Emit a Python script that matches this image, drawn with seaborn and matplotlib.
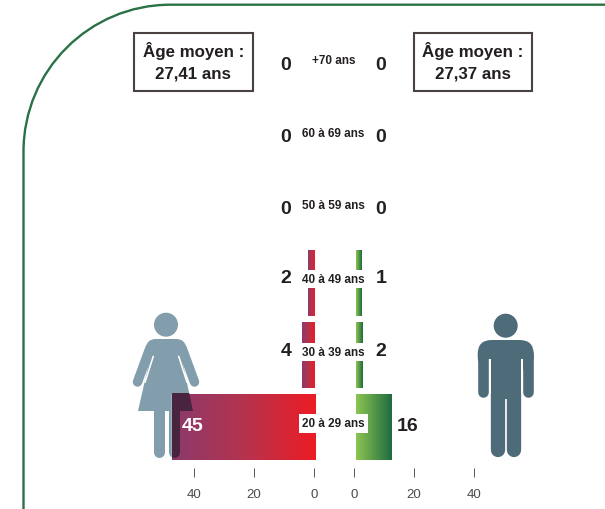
import numpy as np
import pandas as pd
import seaborn as sns
import matplotlib.pyplot as plt
from matplotlib.colors import LinearSegmentedColormap
from matplotlib.patches import Circle, FancyBboxPatch, PathPatch, Polygon, Rectangle
from matplotlib.path import Path

# Data
tranches = ["+70 ans", "60 à 69 ans", "50 à 59 ans", "40 à 49 ans", "30 à 39 ans", "20 à 29 ans"]
femmes = [0, 0, 0, 2, 4, 45]
hommes = [0, 0, 0, 1, 2, 16]
# bar lengths as drawn, measured on the axis ticks
femmes_barres = [0, 0, 0, 2.33, 4.33, 47.67]
hommes_barres = [0, 0, 0, 1.67, 2.33, 12]
ticks_x = [0, 20, 40]
age_femmes = ["Âge moyen :", "27,41 ans"]
age_hommes = ["Âge moyen :", "27,37 ans"]

W, H = 605, 510
INK = "#231f20"

sns.set_theme(style="white")
plt.rcParams["font.family"] = ["Liberation Sans", "DejaVu Sans"]

df = pd.DataFrame({"tranche": tranches, "femmes": femmes_barres, "hommes": hommes_barres})

fig = plt.figure(figsize=(W / 100, H / 100), dpi=100)


def px_axes(x0, y0, x1, y1, **kw):
    return fig.add_axes([x0 / W, 1 - y1 / H, (x1 - x0) / W, (y1 - y0) / H], **kw)


def px(n):
    return n * 0.72


def draw_femme(ax, color, clip=None):
    parts = [
        Circle((166, 325.7), 12, color=color, lw=0),
        FancyBboxPatch((146, 340), 40, 20, boxstyle="round,pad=0,rounding_size=10", color=color, lw=0),
        Polygon([(153.3, 345), (178.7, 345), (193, 412), (138, 412)], color=color, lw=0),
    ]
    for p in parts:
        ax.add_patch(p)
        if clip is not None:
            p.set_clip_path(clip)
    lines = []
    for xs, ys, w in [([150, 137.5], [349, 383], 9.5), ([182, 194.5], [349, 383], 9.5),
                      ([158.5, 158.5], [405, 452.5], 11), ([173.5, 173.5], [405, 452.5], 11)]:
        lines += ax.plot(xs, ys, color=color, lw=px(w), solid_capstyle="round")
    if clip is not None:
        for l in lines:
            l.set_clip_path(clip)


def draw_homme(ax, color):
    ax.add_patch(Circle((505.7, 326.7), 12, color=color, lw=0))
    ax.add_patch(FancyBboxPatch((477.7, 341), 56, 30, boxstyle="round,pad=0,rounding_size=14", color=color, lw=0))
    ax.add_patch(Rectangle((490.7, 360), 30.3, 40, color=color, lw=0))
    ax.plot([483, 483], [355, 393], color=color, lw=px(10.6), solid_capstyle="round")
    ax.plot([528.4, 528.4], [355, 393], color=color, lw=px(10.6), solid_capstyle="round")
    ax.add_patch(Rectangle((488.3, 360), 2.4, 40, color="white", lw=0))
    ax.add_patch(Rectangle((521, 360), 2.4, 40, color="white", lw=0))
    ax.plot([497.8, 497.8], [395, 450.5], color=color, lw=px(14.3), solid_capstyle="round")
    ax.plot([513.9, 513.9], [395, 450.5], color=color, lw=px(14.3), solid_capstyle="round")


# background layer: frame and pictograms
bg = px_axes(0, 0, W, H, zorder=1)
bg.set_xlim(0, W)
bg.set_ylim(H, 0)
bg.axis("off")

r, k = 147, 0.5523
frame = Path(
    [(23.5, H + 5), (23.5, 5.7 + r), (23.5, 5.7 + r - k * r), (23.5 + r - k * r, 5.7), (23.5 + r, 5.7), (W + 5, 5.7)],
    [Path.MOVETO, Path.LINETO, Path.CURVE4, Path.CURVE4, Path.CURVE4, Path.LINETO],
)
bg.add_patch(PathPatch(frame, fc="none", ec="#2a7145", lw=1.7))

draw_femme(bg, "#829dab")
bg.plot([153.3, 145], [357.3, 383.3], color="white", lw=px(1.6))
bg.plot([178.7, 187], [357.3, 383.3], color="white", lw=px(1.6))
draw_homme(bg, "#4e6b7a")

# the two bar panels
ax_f = px_axes(134, 31, 314, 469, zorder=2)
ax_h = px_axes(354, 31, 534, 469, zorder=2)

cmap_f = LinearSegmentedColormap.from_list("f", ["#8b3a6b", "#b5334f", "#ed1c24"])
cmap_h = LinearSegmentedColormap.from_list("h", ["#8cc551", "#1f6b40"])
grad = np.linspace(0, 1, 256).reshape(1, -1)

for ax, col, cmap, shift, xlim in [
    (ax_f, "femmes", cmap_f, -0.2, (60, 0)),
    (ax_h, "hommes", cmap_h, 0.67, (0, 60)),
]:
    sns.barplot(data=df, y="tranche", x=col, ax=ax, width=66 / 72, color="white", saturation=1, orient="h")
    for p in ax.patches:
        if p.get_width() == 0:
            continue
        p.set_x(shift)
        x0, x1 = shift, shift + p.get_width()
        y0, y1 = p.get_y(), p.get_y() + p.get_height()
        # left panel runs leftwards, so the gradient starts at the far end
        ext = (x1, x0, y1, y0) if col == "femmes" else (x0, x1, y1, y0)
        im = ax.imshow(grad, extent=ext, cmap=cmap, aspect="auto", zorder=3, interpolation="bilinear")
        im.set_clip_path(p)
    ax.set_xlim(*xlim)
    ax.set_ylim(5.576, -0.507)
    ax.patch.set_visible(False)
    sns.despine(ax=ax, left=True, bottom=True, top=True, right=True)
    ax.set_xlabel("")
    ax.set_ylabel("")
    ax.set_yticks([])
    ax.set_xticks(ticks_x)
    ax.tick_params(axis="x", bottom=True, length=px(9), width=0.7, color="#555555", pad=px(11),
                   labelsize=9.5, labelcolor="#4a4a4a")

# top layer: overlap of the figure with the bar, and all the text
top = px_axes(0, 0, W, H, zorder=3)
top.set_xlim(0, W)
top.set_ylim(H, 0)
top.axis("off")
top.patch.set_visible(False)

clip = Rectangle((172, 394), 143, 66, transform=top.transData)
draw_femme(top, "#49243f", clip=clip)
top.set_xlim(0, W)
top.set_ylim(H, 0)

label_y = [61, 134, 206, 280, 353, 424.5]
num_y = [66, 138, 210, 279, 351.5, 426.5]
for t, yl, yn, f, h in zip(tranches, label_y, num_y, femmes, hommes):
    top.text(333.5, yl, t, ha="center", va="center", fontsize=8.5, fontweight="bold", color=INK,
             bbox=dict(fc="white", ec="none", pad=px(3.4)))
    if f >= 10:
        top.text(193, yn, str(f), ha="center", va="center", fontsize=14, fontweight="bold", color="white")
    else:
        top.text(286, yn, str(f), ha="center", va="center", fontsize=14, fontweight="bold", color=INK)
    top.text(408 if h >= 10 else 381, yn, str(h), ha="center", va="center", fontsize=14, fontweight="bold", color=INK)

for x0, x1, lignes in [(134, 252.5, age_femmes), (413.5, 532, age_hommes)]:
    top.add_patch(Rectangle((x0, 33.5), x1 - x0, 58, fc="white", ec="#4a4240", lw=1.5))
    top.text((x0 + x1) / 2, 51, lignes[0], ha="center", va="center", fontsize=12.2, fontweight="bold", color=INK)
    top.text((x0 + x1) / 2, 74, lignes[1], ha="center", va="center", fontsize=12.2, fontweight="bold", color=INK)

fig.savefig("out.png", dpi=100)
